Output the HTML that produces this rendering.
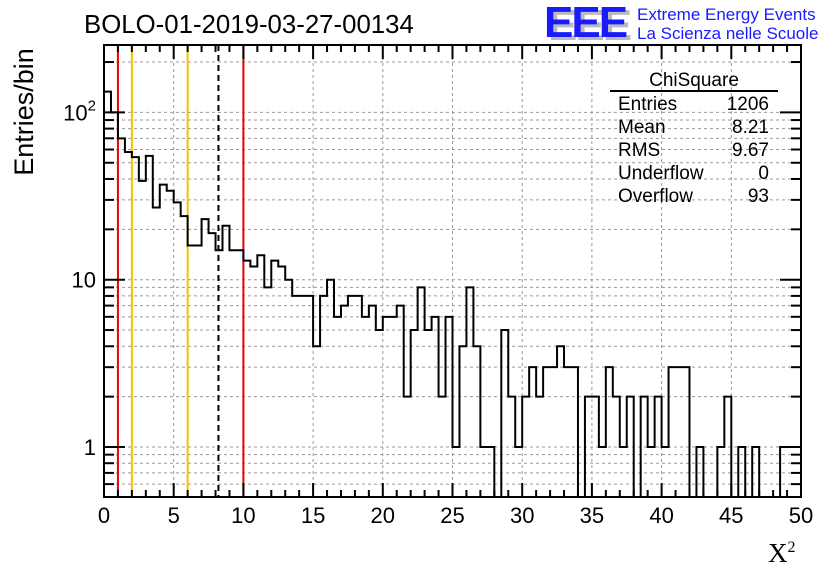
<!DOCTYPE html>
<html><head><meta charset="utf-8"><style>
body{margin:0;background:#fff}
svg{display:block;font-family:"Liberation Sans",sans-serif}
</style></head><body>
<svg id="chart" width="836" height="572" viewBox="0 0 836 572">
<rect width="836" height="572" fill="#fff"/>
<g id="grid"></g>
<g id="vlines"></g>
<path id="hist" fill="none" stroke="#000" stroke-width="2"/>
<g id="axes"></g>
<text x="84" y="33" font-size="25.8">BOLO-01-2019-03-27-00134</text>
<text transform="translate(33,112) rotate(-90)" text-anchor="middle" font-size="27">Entries/bin</text>
<text x="768" y="562" font-size="27" font-family="Liberation Serif,serif">X<tspan font-size="16" dy="-10">2</tspan></text>
<g>
<text x="548" y="40" font-size="44" font-weight="bold" fill="#bbb" letter-spacing="-2">EEE</text>
<text x="544" y="37" font-size="44" font-weight="bold" fill="#1a1aff" letter-spacing="-2">EEE</text>
<text x="637" y="20" font-size="17" fill="#1a1aff">Extreme Energy Events</text>
<text x="637" y="39" font-size="17" fill="#1a1aff">La Scienza nelle Scuole</text>
</g>
<g font-size="19">
<text x="694" y="86" text-anchor="middle">ChiSquare</text>
<line x1="610" y1="91" x2="778" y2="91" stroke="#000" stroke-width="2"/>
<text x="618" y="110">Entries</text><text x="769" y="110" text-anchor="end">1206</text>
<text x="618" y="133">Mean</text><text x="769" y="133" text-anchor="end">8.21</text>
<text x="618" y="156">RMS</text><text x="769" y="156" text-anchor="end">9.67</text>
<text x="618" y="179">Underflow</text><text x="769" y="179" text-anchor="end">0</text>
<text x="618" y="202">Overflow</text><text x="769" y="202" text-anchor="end">93</text>
</g>
</svg>
<script>
const counts = [133,100,70,58,54,39,55,27,37,34,29,24,16,16,23,19,15,21,15,15,
13,12,14,9,13,12,10,8,8,8,4,8,10,6,7,8,8,6,7,5,
6,6,7,2,5,9,5,6,2,6,1,4,9,4,1,1,0,5,2,1,
2,3,2,3,3,4,3,3,0,2,2,1,3,2,1,2,0,2,1,2,
1,3,3,3,0,1,0,0,1,2,0,1,0,1,0,0,0,1,1,1];
const binWidth = 0.5;
const xTicks = [0,5,10,15,20,25,30,35,40,45,50];
const yMajors = [1,10,100];
const markerRed = [1,10];
const markerOrange = [2,6];
const markerMean = [8.21];

const NS="http://www.w3.org/2000/svg";
const L=104,R=801,T=45,B=497,XMIN=0,XMAX=50;
const sx=v=>L+(v-XMIN)/(XMAX-XMIN)*(R-L);
const sy=v=>447-167.3*Math.log10(v);
function mk(tag,attrs,parent){const e=document.createElementNS(NS,tag);for(const k in attrs)e.setAttribute(k,attrs[k]);parent.appendChild(e);return e;}
const grid=document.getElementById('grid'),axes=document.getElementById('axes'),vl=document.getElementById('vlines');
xTicks.forEach(t=>{if(t>XMIN&&t<XMAX){const g=mk('line',{x1:sx(t),x2:sx(t),y1:T,y2:B,stroke:'#999','stroke-dasharray':'3,3'},grid);

}});
const yGridVals=[];
[0.1,1,10,100].forEach(d=>{for(let m=1;m<10;m++){const v=d*m;if(v>0.505&&v<253)yGridVals.push(v);}});
yGridVals.forEach(v=>{const g=mk('line',{x1:L,x2:R,y1:sy(v),y2:sy(v),stroke:'#999','stroke-dasharray':'3,3'},grid);


const major=yMajors.includes(v);const len=major?21:10;
const a=mk('line',{x1:L,x2:L+len,y1:sy(v),y2:sy(v),stroke:'#000','stroke-width':2},axes);


const b=mk('line',{x1:R-len,x2:R,y1:sy(v),y2:sy(v),stroke:'#000','stroke-width':2},axes);

});
for(let t=XMIN;t<=XMAX;t++){const major=t%5===0;const len=major?14:7;
[[B,B-len],[T,T+len]].forEach(([y1,y2])=>{const e=mk('line',{x1:sx(t),x2:sx(t),y1:y1,y2:y2,stroke:'#000','stroke-width':2},axes);

});}
xTicks.forEach(t=>{const e=mk('text',{x:sx(t),y:523,'text-anchor':'middle','font-size':22},axes);e.textContent=t;

});
yMajors.forEach(v=>{const e=mk('text',{x:96,y:sy(v)+8,'text-anchor':'end','font-size':22},axes);
if(v===100){e.innerHTML='10<tspan font-size="15" dy="-10">2</tspan>';}else e.textContent=v;

});
const fr=mk('rect',{x:L,y:T,width:R-L,height:B-T,fill:'none',stroke:'#000','stroke-width':2},axes);


function vline(v,col,dash,name){const e=mk('line',{x1:sx(v),x2:sx(v),y1:T,y2:B,stroke:col,'stroke-width':2},vl);if(dash)e.setAttribute('stroke-dasharray',dash);

}
markerRed.forEach(v=>vline(v,'#e00',null,'red-marker-line'));
markerOrange.forEach(v=>vline(v,'#f5c000',null,'orange-marker-line'));
markerMean.forEach(v=>vline(v,'#000','6,4','mean-marker-line'));
const yv=c=>c>0?sy(c):B;
let d='M'+sx(0)+','+B;
counts.forEach((c,i)=>{const x0=sx(i*binWidth),x1=sx((i+1)*binWidth);d+=' L'+x0+','+yv(c)+' L'+x1+','+yv(c);});
d+=' L'+sx(counts.length*binWidth)+','+B;
document.getElementById('hist').setAttribute('d',d);
</script>
</body></html>
